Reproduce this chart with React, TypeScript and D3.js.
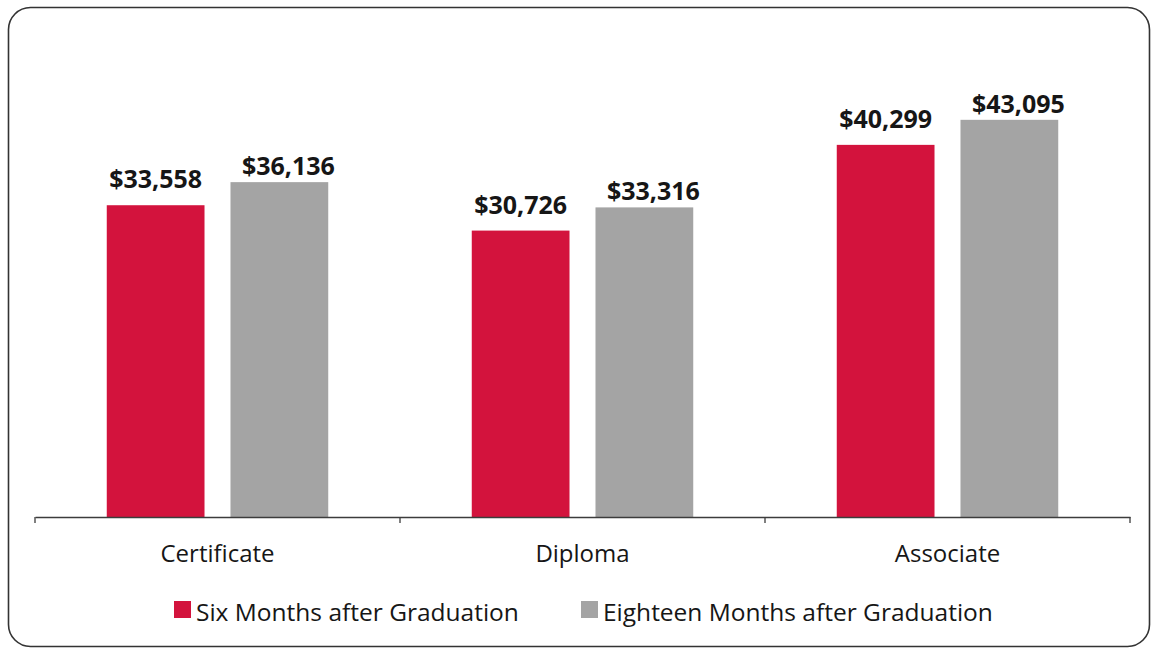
import { useEffect, useRef } from 'react';
import * as d3 from 'd3';

const categories = ['Certificate', 'Diploma', 'Associate'];
const seriesNames = ['Six Months after Graduation', 'Eighteen Months after Graduation'];
const sixMonths = [33558, 30726, 40299];
const eighteenMonths = [36136, 33316, 43095];
const colors = ['#d3133d', '#a4a4a4'];

const W = 1154;
const H = 652;
const FONT = '"Open Sans", "Noto Sans", sans-serif';

export default function App() {
  const svgRef = useRef<SVGSVGElement>(null);

  useEffect(() => {
    if (!svgRef.current) return;
    const svg = d3.select(svgRef.current);
    svg.selectAll('*').remove();

    // Outer frame
    svg
      .append('rect')
      .attr('x', 8.5)
      .attr('y', 7.5)
      .attr('width', 1141)
      .attr('height', 639)
      .attr('rx', 22)
      .attr('fill', '#fff')
      .attr('stroke', '#333')
      .attr('stroke-width', 1.6);

    const plot = { left: 35, right: 1130, top: 58, bottom: 517 };

    const x0 = d3
      .scaleBand()
      .domain(categories)
      .range([plot.left, plot.right])
      .padding(0);

    const x1 = d3
      .scaleBand()
      .domain(seriesNames)
      .range([0, x0.bandwidth()])
      .paddingInner(0.21)
      .paddingOuter(0.58);

    // the scanned original sits a little below zero at the axis line
    const y = d3.scaleLinear().domain([-1260, 50000]).range([plot.bottom, plot.top]);

    const rows = categories.map((c, i) => ({
      category: c,
      values: [sixMonths[i], eighteenMonths[i]],
    }));

    const g = svg.append('g');

    const groups = g
      .selectAll('.grp')
      .data(rows)
      .enter()
      .append('g')
      .attr('transform', (d) => `translate(${x0(d.category)},0)`);

    const cells = groups
      .selectAll('.cell')
      .data((d) => d.values.map((v, j) => ({ v, j })))
      .enter();

    cells
      .append('rect')
      .attr('x', (d) => x1(seriesNames[d.j]) || 0)
      .attr('y', (d) => y(d.v))
      .attr('width', x1.bandwidth())
      .attr('height', (d) => plot.bottom - y(d.v))
      .attr('fill', (d) => colors[d.j]);

    // Value labels (gray labels sit a bit right and lower, like the original)
    cells
      .append('text')
      .attr('x', (d) => (x1(seriesNames[d.j]) || 0) + x1.bandwidth() / 2 + (d.j === 1 ? 9 : 0))
      .attr('y', (d) => y(d.v) - (d.j === 1 ? 7 : 17))
      .attr('text-anchor', 'middle')
      .attr('font-family', FONT)
      .attr('font-weight', 'bold')
      .attr('font-size', '25px')
      .attr('fill', '#161616')
      .text((d) => d3.format('$,')(d.v));

    // X axis
    const axis = svg
      .append('g')
      .attr('transform', `translate(0,${plot.bottom})`)
      .call(d3.axisBottom(x0).tickSize(0).tickPadding(28));
    axis.select('.domain').attr('stroke', '#3c3c3c').attr('stroke-width', 1.3);
    axis
      .selectAll('text')
      .attr('font-family', FONT)
      .attr('font-size', '24px')
      .attr('fill', '#161616');

    // Category separator ticks
    const edges = [...categories.map((c) => x0(c) || 0), plot.right];
    svg
      .selectAll('.sep')
      .data(edges)
      .enter()
      .append('line')
      .attr('x1', (d) => d)
      .attr('x2', (d) => d)
      .attr('y1', plot.bottom)
      .attr('y2', plot.bottom + 6)
      .attr('stroke', '#3c3c3c')
      .attr('stroke-width', 1.3);

    // Legend
    const legendX = [174, 581];
    const legend = svg
      .selectAll('.leg')
      .data(seriesNames)
      .enter()
      .append('g')
      .attr('transform', (_, i) => `translate(${legendX[i]},601)`);
    legend
      .append('rect')
      .attr('width', 17)
      .attr('height', 17)
      .attr('fill', (_, i) => colors[i]);
    legend
      .append('text')
      .attr('x', 22)
      .attr('y', 20)
      .attr('font-family', FONT)
      .attr('font-size', '24.5px')
      .attr('fill', '#161616')
      .text((d) => d);
  }, []);

  return (
    <div style={{ position: 'absolute', left: 0, top: 0 }}>
      <svg ref={svgRef} width={W} height={H} style={{ display: 'block' }} />
    </div>
  );
}
